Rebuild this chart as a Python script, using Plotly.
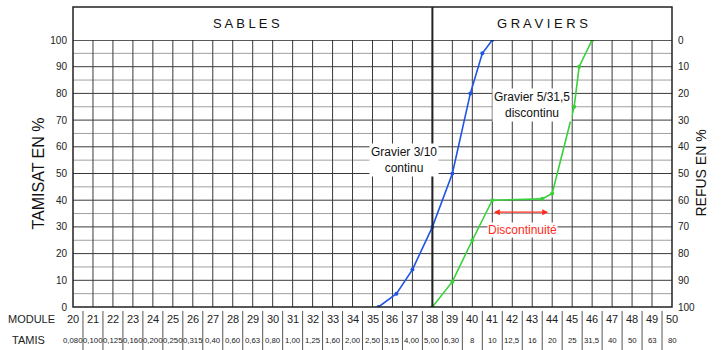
import plotly.graph_objects as go

modules = list(range(20, 51))
tamis = ["0,080", "0,100", "0,125", "0,160", "0,200", "0,250", "0,315", "0,40", "0,60", "0,63",
         "0,80", "1,00", "1,25", "1,60", "2,00", "2,50", "3,15", "4,00", "5,00", "6,30",
         "8", "10", "12,5", "16", "20", "25", "31,5", "40", "50", "63", "80"]
y_ticks = list(range(0, 101, 10))

blue_x = [35.3, 36.2, 37.0, 38.0, 39.0, 39.9, 40.5, 41.0]
blue_y = [0, 5, 14, 30, 50, 80, 95, 100]
green_x = [38.0, 39.0, 40.0, 41.0, 43.5, 44.0, 45.1, 45.35, 46.0]
green_y = [0, 9.5, 25, 40, 40.5, 42.5, 75, 90, 100]

FONT = "Liberation Sans, Arial, sans-serif"
BLUE = "#1f55e6"
GREEN = "#38d13a"

fig = go.Figure()
fig.add_trace(go.Scatter(x=blue_x, y=blue_y, mode="lines+markers",
                         line=dict(color=BLUE, width=1.6), marker=dict(color=BLUE, size=4),
                         showlegend=False, hoverinfo="skip"))
fig.add_trace(go.Scatter(x=green_x, y=green_y, mode="lines+markers",
                         line=dict(color=GREEN, width=1.6), marker=dict(color=GREEN, size=4),
                         showlegend=False, hoverinfo="skip"))
# dummy trace for right axis
fig.add_trace(go.Scatter(x=[None], y=[None], yaxis="y2", showlegend=False, hoverinfo="skip"))

shapes = []
# vertical grid lines
for m in modules[1:-1]:
    shapes.append(dict(type="line", xref="x", yref="y", x0=m, x1=m, y0=0, y1=100,
                       line=dict(color="#3a3a3a", width=1), layer="below"))
# horizontal grid lines
for v in range(5, 100, 5):
    col = "#3a3a3a" if v % 10 == 0 else "#a0a0a0"
    shapes.append(dict(type="line", xref="paper", yref="y", x0=0, x1=1, y0=v, y1=v,
                       line=dict(color=col, width=1), layer="below"))
HEAD = 1 + 33 / 267
# header line at 100 and outer frame
shapes.append(dict(type="line", xref="paper", yref="y", x0=0, x1=1, y0=100, y1=100,
                   line=dict(color="#222", width=1.5)))
shapes.append(dict(type="rect", xref="paper", yref="paper", x0=0, x1=1, y0=0, y1=HEAD,
                   line=dict(color="#222", width=1.5)))
# sand/gravel divider
shapes.append(dict(type="line", xref="x", yref="paper", x0=38, x1=38, y0=0, y1=HEAD,
                   line=dict(color="#222", width=2)))
# bottom table separators
for m in modules:
    shapes.append(dict(type="line", xref="x", yref="paper", x0=m + 0.5, x1=m + 0.5,
                       y0=-4 / 267, y1=-43 / 267, line=dict(color="#555", width=1)))

annotations = []
for m, t in zip(modules, tamis):
    annotations.append(dict(x=m, y=0, xref="x", yref="y", text=str(m), showarrow=False,
                            yshift=-12, font=dict(family=FONT, size=11, color="#222")))
    annotations.append(dict(x=m, y=0, xref="x", yref="y", text=t, showarrow=False,
                            yshift=-33, font=dict(family=FONT, size=7.8, color="#222")))
annotations.append(dict(x=0, y=0, xref="paper", yref="y", xanchor="left", text="MODULE",
                        showarrow=False, yshift=-12, xshift=-67,
                        font=dict(family=FONT, size=11, color="#222")))
annotations.append(dict(x=0, y=0, xref="paper", yref="y", xanchor="left", text="TAMIS",
                        showarrow=False, yshift=-33, xshift=-63,
                        font=dict(family=FONT, size=11, color="#222")))

annotations.append(dict(x=0, y=50, xref="paper", yref="y", text="TAMISAT EN %", textangle=-90,
                        xanchor="center", yanchor="middle",
                        showarrow=False, xshift=-35, font=dict(family=FONT, size=16, color="#111")))
annotations.append(dict(x=1, y=50, xref="paper", yref="y", text="REFUS EN %", textangle=-90,
                        xanchor="center", yanchor="middle",
                        showarrow=False, xshift=28, font=dict(family=FONT, size=14, color="#111")))
annotations.append(dict(x=28.7, y=(1 + HEAD) / 2, xref="x", yref="paper",
                        text="S A B L E S", showarrow=False, xanchor="center", yanchor="middle",
                        font=dict(family=FONT, size=13, color="#111")))
annotations.append(dict(x=43.5, y=(1 + HEAD) / 2, xref="x", yref="paper",
                        text="G R A V I E R S", showarrow=False, xanchor="center", yanchor="middle",
                        font=dict(family=FONT, size=13, color="#111")))
annotations.append(dict(x=36.6, y=55, xref="x", yref="y", text="Gravier 3/10<br>continu",
                        showarrow=False, bgcolor="white", borderpad=1,
                        font=dict(family=FONT, size=12, color="#111")))
annotations.append(dict(x=43.0, y=75.5, xref="x", yref="y", text="Gravier 5/31,5<br>discontinu",
                        showarrow=False, bgcolor="white", borderpad=1,
                        font=dict(family=FONT, size=12, color="#111")))
annotations.append(dict(x=42.5, y=29, xref="x", yref="y", text="Discontinuité",
                        showarrow=False, bgcolor="white", borderpad=0,
                        font=dict(family=FONT, size=12, color="#ff2a1a")))
annotations.append(dict(x=43.8, y=35.5, ax=41.0, ay=35.5, xref="x", yref="y", axref="x", ayref="y",
                        text="", showarrow=True, arrowhead=2, arrowside="end+start",
                        arrowsize=1, arrowwidth=1.2, arrowcolor="#ff2a1a"))

fig.update_layout(
    width=721, height=350,
    margin=dict(l=73, r=49, t=40, b=43),
    paper_bgcolor="white", plot_bgcolor="white",
    xaxis=dict(range=[20, 50], showgrid=False, zeroline=False, showticklabels=False,
               ticks="", fixedrange=True),
    yaxis=dict(range=[0, 100], tickvals=y_ticks, showgrid=False, zeroline=False,
               ticks="", ticklabelstandoff=5,
               tickfont=dict(family=FONT, size=10, color="#222"), fixedrange=True),
    yaxis2=dict(range=[100, 0], overlaying="y", side="right", tickvals=y_ticks,
                showgrid=False, zeroline=False, ticks="", ticklabelstandoff=5,
                tickfont=dict(family=FONT, size=10, color="#222"), fixedrange=True),
    shapes=shapes,
    annotations=annotations,
    showlegend=False,
)

fig.write_html("out.html")
